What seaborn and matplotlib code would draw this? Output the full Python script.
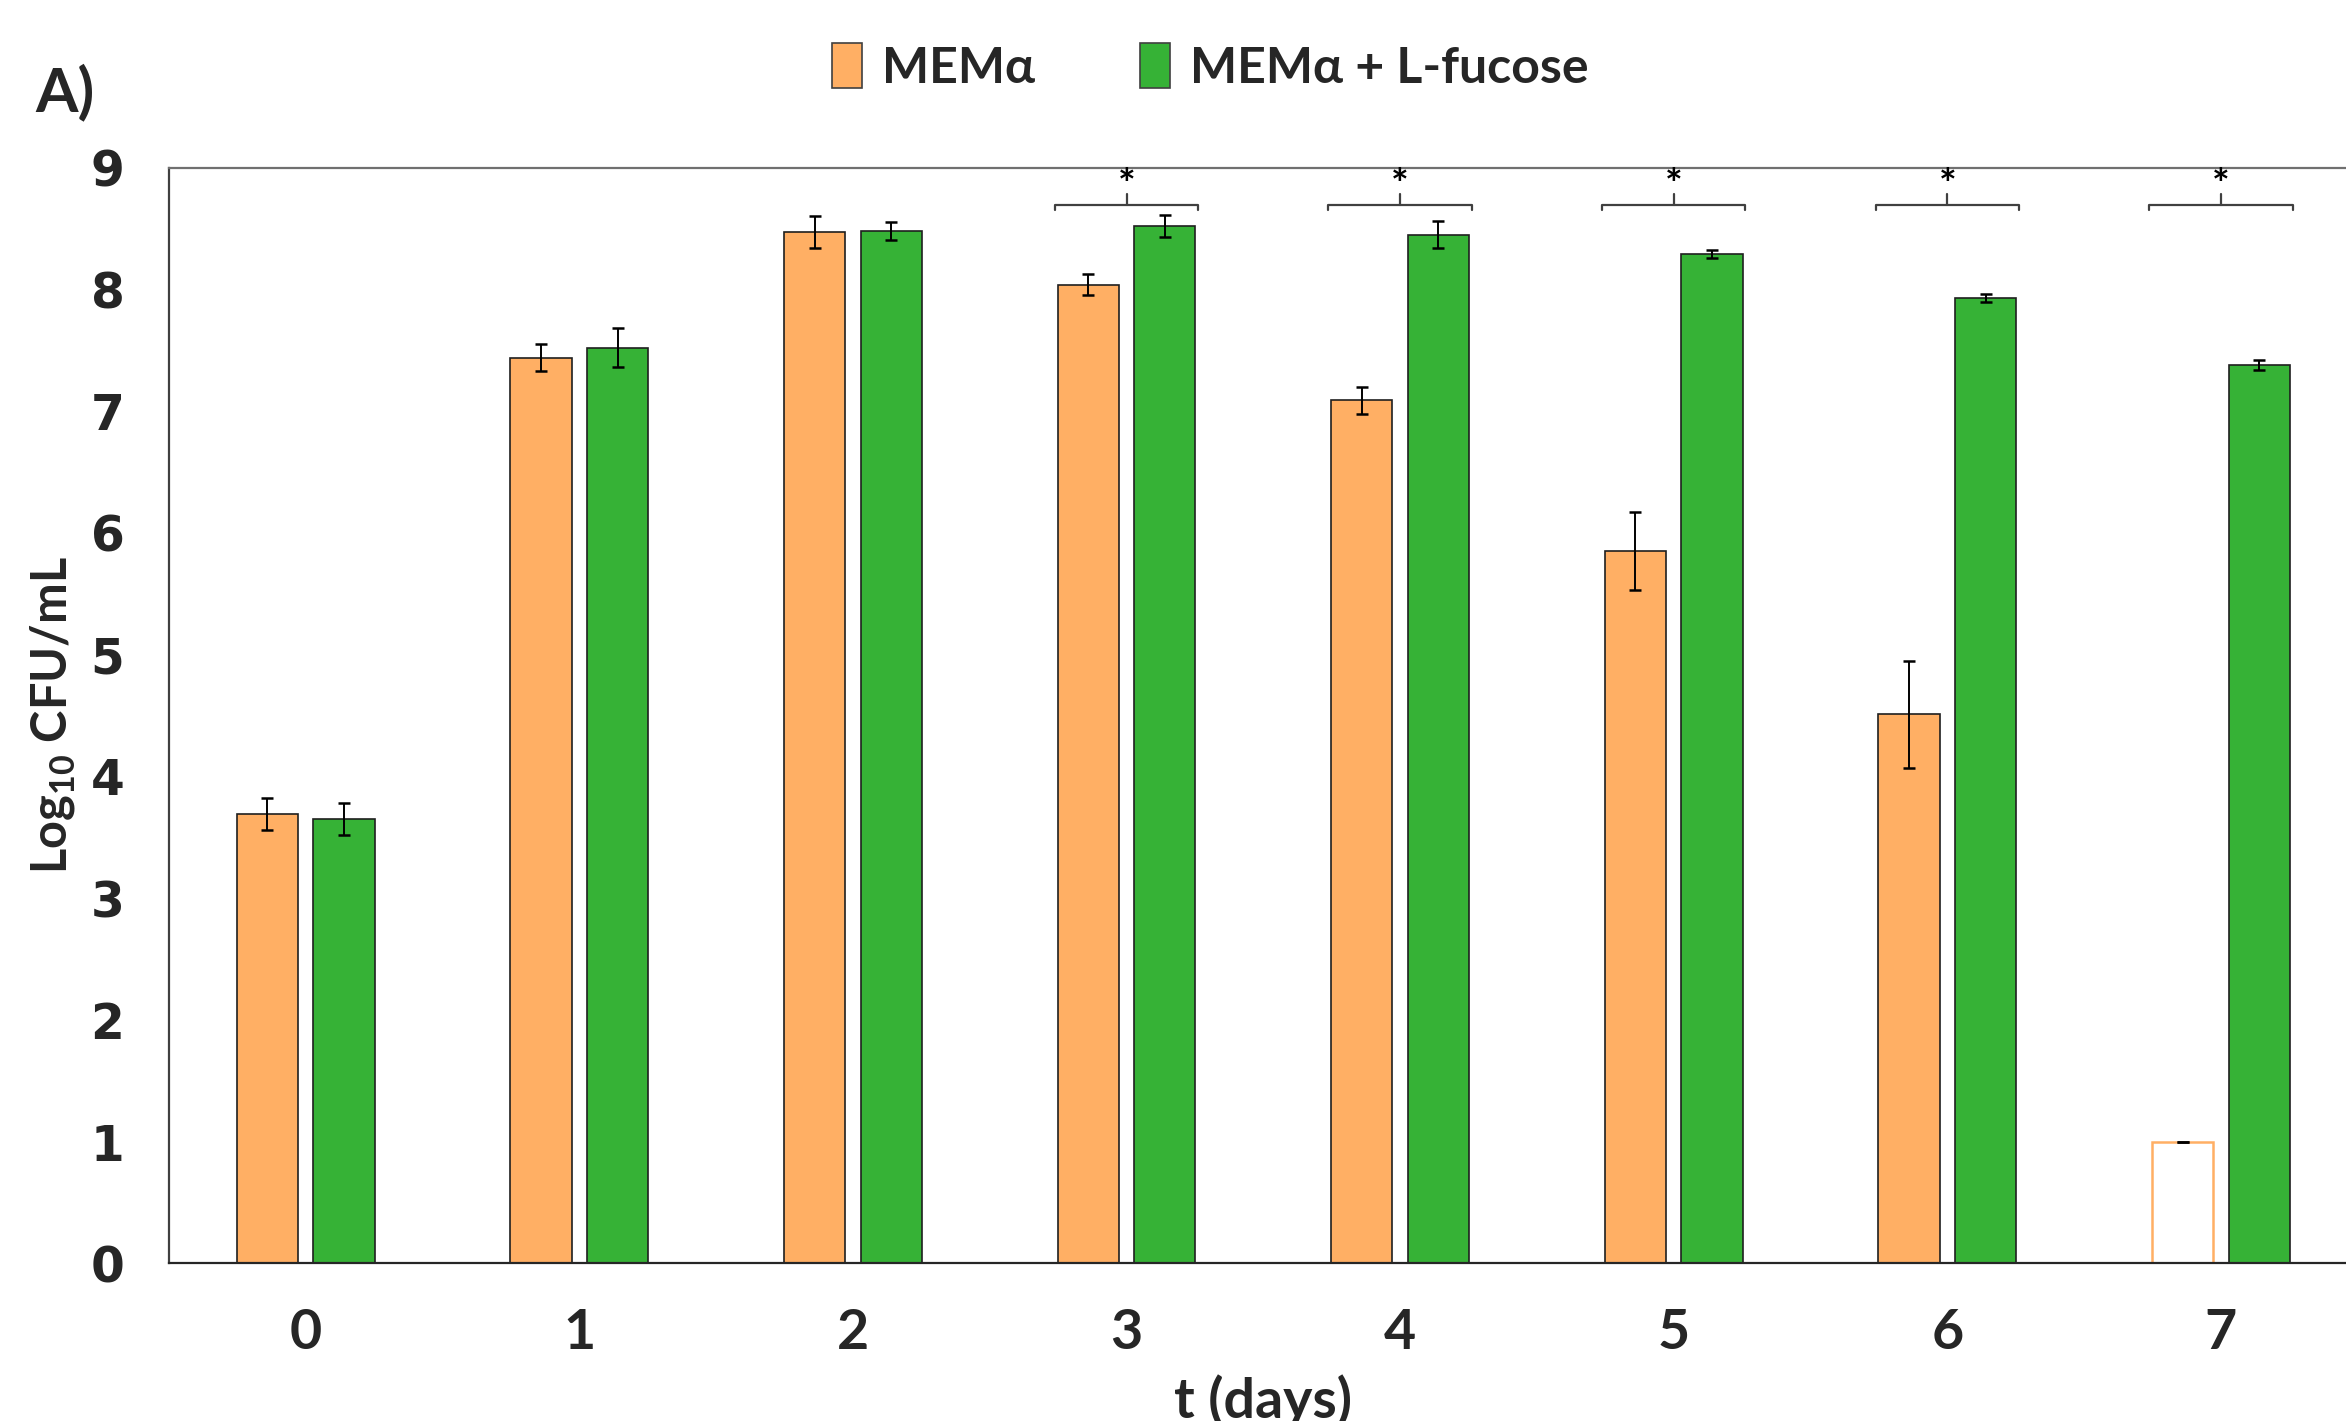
"""Bacterial growth in MEMa with and without L-fucose"""

import numpy as np
import pandas as pd
import matplotlib
matplotlib.use('Agg')
import matplotlib.pyplot as plt
import seaborn as sns

days = [0, 1, 2, 3, 4, 5, 6, 7]
groups = ['MEMα', 'MEMα + L-fucose']
mem_mean = [3.69, 7.44, 8.47, 8.04, 7.09, 5.85, 4.51, 1.00]
mem_sd = [0.13, 0.11, 0.13, 0.09, 0.11, 0.32, 0.44, 0.0]
fuc_mean = [3.65, 7.52, 8.48, 8.52, 8.45, 8.29, 7.93, 7.38]
fuc_sd = [0.13, 0.16, 0.07, 0.09, 0.11, 0.03, 0.03, 0.04]
sig_days = [3, 4, 5, 6, 7]
y_ticks = [0, 1, 2, 3, 4, 5, 6, 7, 8, 9]

colors = ['#FFAF64', '#36B236']

sns.set_theme(style='white')
plt.rcParams['font.family'] = ['Lato', 'DejaVu Sans']
plt.rcParams['mathtext.fontset'] = 'custom'
plt.rcParams['mathtext.rm'] = 'Lato'
plt.rcParams['mathtext.bf'] = 'Lato:bold'

df = pd.DataFrame({
    'day': [str(d) for d in days] * 2,
    'group': [groups[0]] * len(days) + [groups[1]] * len(days),
    'value': mem_mean + fuc_mean,
})

fig = plt.figure(figsize=(11.73, 7.105), dpi=200)
ax = fig.add_axes([0.072, 0.111, 0.933, 0.771])

sns.barplot(data=df, x='day', y='value', hue='group', palette=colors,
            saturation=1, width=0.56, gap=0.2, errorbar=None,
            edgecolor='#1f1f1f', linewidth=0.6, ax=ax)

# error bars and the empty bar at day 7
sds = [mem_sd, fuc_sd]
for cont, sd in zip(ax.containers, sds):
    xs = [p.get_x() + p.get_width() / 2 for p in cont.patches]
    hs = [p.get_height() for p in cont.patches]
    ax.errorbar(xs, hs, yerr=sd, fmt='none', ecolor='black', elinewidth=0.7,
                capsize=2.2, capthick=0.9, zorder=5)
last = ax.containers[0].patches[-1]
last.set_facecolor('white')
last.set_edgecolor(colors[0])
last.set_linewidth(0.9)

# significance brackets
for d in sig_days:
    po = ax.containers[0].patches[d]
    pg = ax.containers[1].patches[d]
    x0 = po.get_x() - 0.01
    x1 = pg.get_x() + pg.get_width() + 0.01
    xm = (x0 + x1) / 2
    yb = 8.69
    ax.plot([x0, x0, x1, x1], [yb - 0.04, yb, yb, yb - 0.04], color='#404040', lw=0.8)
    ax.plot([xm, xm], [yb, yb + 0.09], color='#404040', lw=0.8)
    ax.text(xm, yb + 0.15, '*', ha='center', va='center', fontsize=15,
            fontweight='bold', color='black')

ax.set_xlim(-0.5, 7.5)
ax.set_ylim(0, 9)
ax.set_yticks(y_ticks)
ax.set_yticklabels([str(t) for t in y_ticks], family='DejaVu Sans',
                   fontweight='bold', fontsize=17.5)
ax.tick_params(axis='x', labelsize=20, pad=16, length=0)
ax.tick_params(axis='y', pad=16, length=0)
for lab in ax.get_xticklabels():
    lab.set_fontweight('bold')

ax.set_xlabel('t (days)', fontsize=20, fontweight='bold', labelpad=6)
ax.set_ylabel(r'Log$_{\mathbf{10}}$ CFU/mL', fontsize=17.5, fontweight='bold', labelpad=5)

for side in ['left', 'top', 'bottom']:
    ax.spines[side].set_visible(True)
    ax.spines[side].set_linewidth(0.8)
ax.spines['left'].set_color('#404040')
ax.spines['top'].set_color('#707070')
ax.spines['bottom'].set_color('#262626')
ax.spines['right'].set_visible(False)

ax.legend_.remove()
handles = [plt.Rectangle((0, 0), 1, 1, facecolor=c, edgecolor='#404040', linewidth=0.6)
           for c in colors]
leg = fig.legend(handles, groups, loc='center', bbox_to_anchor=(0.516, 0.953),
                 ncol=2, frameon=False, handlelength=0.6, handleheight=1.0,
                 handletextpad=0.4, columnspacing=2.1,
                 prop={'weight': 'bold', 'size': 18})

fig.text(0.015, 0.935, 'A)', fontsize=22, fontweight='bold', ha='left', va='center')

fig.savefig('out.png', dpi=200)
